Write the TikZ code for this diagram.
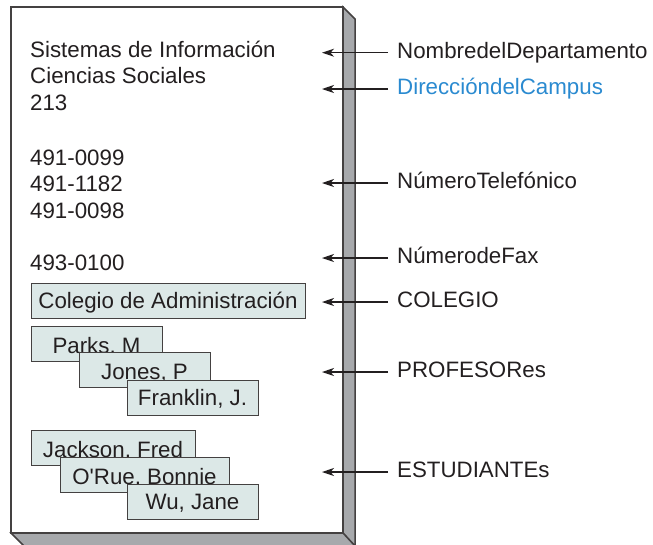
\documentclass[tikz,border=0pt]{standalone}
\usepackage{fontspec}
\setmainfont{Liberation Sans}
\usetikzlibrary{arrows.meta}
\definecolor{inkgray}{HTML}{231F20}
\definecolor{sidegray}{HTML}{A7A9AC}
\definecolor{cardfill}{HTML}{DCE8E7}
\definecolor{linkblue}{HTML}{2A8AD0}

\begin{document}
\begin{tikzpicture}[
      x=1pt, y=-1pt,
      every node/.style={font=\fontsize{22.3}{26.5}\selectfont, text=inkgray},
      line/.style={inner sep=0pt, anchor=base west},
      card/.style={draw=inkgray!85, line width=1pt, fill=cardfill,
        inner sep=0pt, minimum height=35pt, text height=16pt, text depth=0pt},
      stacked/.style={card, text height=19pt},
      field/.style={anchor=west, inner xsep=9pt, inner ysep=0pt,
        text height=16.3pt, text depth=4.7pt},
      arrow/.style={-{Stealth[length=12pt, width=8pt, inset=3.5pt]},
        line width=1.3pt, draw=inkgray},
      edge3d/.style={draw=inkgray!85, line width=1.5pt, line join=miter},
    ]
    \useasboundingbox (0,0) rectangle (653,544);

    % Page and its thickness
    \draw[edge3d, fill=sidegray] (343,7) -- (355,19) -- (355,546) -- (343,533) -- cycle;
    \draw[edge3d, fill=sidegray] (11,533) -- (343,533) -- (355,546) -- (24,546) -- cycle;
    \draw[edge3d, fill=white] (11,7) rectangle (343,533);

    % Plain values
    \node[line] (dname)  at (30,57)    {Sistemas de Información};
    \node[line] (bldg)   at (30,83.5)  {Ciencias Sociales};
    \node[line] (room)   at (30,110)   {213};
    \node[line] (phone1) at (30,165)   {491-0099};
    \node[line] (phone2) at (30,191.5) {491-1182};
    \node[line] (phone3) at (30,218)   {491-0098};
    \node[line] (fax)    at (30,270)   {493-0100};

    % Related records
    \node[card, minimum width=274pt] (college) at (168,300.5) {Colegio de Administración};
    \node[stacked, minimum width=131pt] (prof1) at (96.5,343.5)  {Parks, M};
    \node[stacked, minimum width=131pt] (prof2) at (144.5,370)   {Jones, P};
    \node[card, minimum width=131pt] (prof3) at (192.5,397.5) {Franklin, J.};
    \node[stacked, minimum width=164pt] (stud1) at (113,448)     {Jackson, Fred};
    \node[stacked, minimum width=169pt] (stud2) at (144.5,474.5) {O\textquotesingle Rue, Bonnie};
    \node[card, minimum width=131pt] (stud3) at (192.5,501.5) {Wu, Jane};

    % Field names
    \coordinate (tip) at (322,0);
    \node[field] (fname)    at (388,52.7) {NombredelDepartamento};
    \node[field, text=linkblue] (fcampus) at (388,89) {DireccióndelCampus};
    \node[field] (fphone)   at (388,183)  {NúmeroTelefónico};
    \node[field] (ffax)     at (388,258)  {NúmerodeFax};
    \node[field] (fcollege) at (388,302)  {COLEGIO};
    \node[field] (fprof)    at (388,372)  {PROFESORes};
    \node[field] (fstud)    at (388,472)  {ESTUDIANTEs};

    \draw[arrow] (fname.west)    -- (fname.west -| tip);
    \draw[arrow] (fcampus.west)  -- (fcampus.west -| tip);
    \draw[arrow] (fphone.west)   -- (fphone.west -| tip);
    \draw[arrow] (ffax.west)     -- (ffax.west -| tip);
    \draw[arrow] (fcollege.west) -- (fcollege.west -| tip);
    \draw[arrow] (fprof.west)    -- (fprof.west -| tip);
    \draw[arrow] (fstud.west)    -- (fstud.west -| tip);
  \end{tikzpicture}
\end{document}
